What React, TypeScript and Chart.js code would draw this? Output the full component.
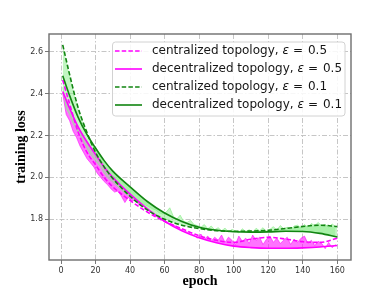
import React, { useEffect, useRef } from 'react';
import { Chart, registerables } from 'chart.js';

Chart.register(...registerables);

// ---- data ----
const smoothEpochs = [1, 5, 10, 15, 20, 25, 30, 40, 50, 60, 70, 80, 90, 100, 110, 120, 130, 140, 150, 160];
const centralized05 = [2.465, 2.35, 2.215, 2.12, 2.06, 2.0, 1.955, 1.89, 1.835, 1.79, 1.755, 1.722, 1.7, 1.69, 1.705, 1.714, 1.706, 1.693, 1.69, 1.71];
const decentralized05 = [2.41, 2.33, 2.24, 2.17, 2.11, 2.05, 2.0, 1.92, 1.85, 1.79, 1.745, 1.712, 1.688, 1.672, 1.665, 1.662, 1.662, 1.664, 1.668, 1.675];
const centralized01 = [2.632, 2.49, 2.33, 2.215, 2.12, 2.05, 1.995, 1.91, 1.845, 1.8, 1.772, 1.756, 1.746, 1.743, 1.744, 1.748, 1.756, 1.766, 1.772, 1.766];
const decentralized01 = [2.485, 2.39, 2.285, 2.205, 2.14, 2.08, 2.03, 1.955, 1.885, 1.83, 1.79, 1.762, 1.748, 1.741, 1.739, 1.74, 1.743, 1.742, 1.733, 1.716];

const rawEpochs = Array.from({ length: 80 }, (_, i) => 1 + 2 * i);
const rawLoss05 = [
  2.4, 2.3, 2.27, 2.22, 2.19, 2.15, 2.12, 2.09, 2.07, 2.05,
  2.02, 2.0, 1.98, 1.965, 1.945, 1.93, 1.935, 1.91, 1.88, 1.905,
  1.885, 1.895, 1.87, 1.865, 1.855, 1.84, 1.835, 1.82, 1.815, 1.8,
  1.79, 1.78, 1.775, 1.765, 1.755, 1.745, 1.74, 1.73, 1.725, 1.71,
  1.73, 1.705, 1.72, 1.695, 1.715, 1.7, 1.725, 1.69, 1.715, 1.7,
  1.68, 1.72, 1.695, 1.71, 1.685, 1.725, 1.7, 1.715, 1.68, 1.705,
  1.72, 1.69, 1.71, 1.685, 1.7, 1.715, 1.68, 1.705, 1.69, 1.71,
  1.72, 1.685, 1.7, 1.675, 1.695, 1.685, 1.66, 1.69, 1.665, 1.68,
];
const rawLoss01 = [
  2.43, 2.33, 2.3, 2.26, 2.23, 2.2, 2.17, 2.14, 2.11, 2.09,
  2.07, 2.05, 2.02, 2.0, 1.985, 1.97, 1.955, 1.94, 1.925, 1.915,
  1.905, 1.895, 1.885, 1.875, 1.868, 1.86, 1.85, 1.845, 1.83, 1.825,
  1.835, 1.855, 1.815, 1.8, 1.82, 1.79, 1.785, 1.795, 1.775, 1.77,
  1.762, 1.775, 1.755, 1.768, 1.75, 1.76, 1.745, 1.758, 1.74, 1.752,
  1.745, 1.735, 1.755, 1.742, 1.75, 1.738, 1.757, 1.745, 1.76, 1.74,
  1.752, 1.765, 1.748, 1.77, 1.755, 1.762, 1.75, 1.768, 1.772, 1.758,
  1.775, 1.762, 1.78, 1.77, 1.785, 1.768, 1.775, 1.762, 1.778, 1.765,
];

const xTicks = [0, 20, 40, 60, 80, 100, 120, 140, 160];
const yTicks = [1.8, 2.0, 2.2, 2.4, 2.6];

const legendNames = ['centralized topology, ', 'decentralized topology, ', 'centralized topology, ', 'decentralized topology, '];
const legendEps = ['0.5', '0.5', '0.1', '0.1'];

const MAGENTA = '#ff00ff';
const GREEN = '#118511';
const legendColors = [MAGENTA, MAGENTA, GREEN, GREEN];
const legendDashed = [true, false, true, false];

const pts = (xs: number[], ys: number[]) => xs.map((x, i) => ({ x, y: ys[i] }));

const framePlugin = {
  id: 'frameLegend',
  afterDraw(chart: any) {
    const { ctx, chartArea: a } = chart;
    ctx.save();
    ctx.strokeStyle = '#6e6e6e';
    ctx.lineWidth = 1.4;
    ctx.setLineDash([]);
    ctx.strokeRect(a.left, a.top, a.right - a.left, a.bottom - a.top);

    // legend box
    const bx = 112.5, by = 42, bw = 232.5, bh = 74, r = 3;
    ctx.beginPath();
    ctx.moveTo(bx + r, by);
    ctx.lineTo(bx + bw - r, by);
    ctx.arcTo(bx + bw, by, bx + bw, by + r, r);
    ctx.lineTo(bx + bw, by + bh - r);
    ctx.arcTo(bx + bw, by + bh, bx + bw - r, by + bh, r);
    ctx.lineTo(bx + r, by + bh);
    ctx.arcTo(bx, by + bh, bx, by + bh - r, r);
    ctx.lineTo(bx, by + r);
    ctx.arcTo(bx, by, bx + r, by, r);
    ctx.closePath();
    ctx.fillStyle = 'rgba(255,255,255,0.85)';
    ctx.fill();
    ctx.strokeStyle = '#d2d2d2';
    ctx.lineWidth = 1;
    ctx.stroke();

    for (let i = 0; i < legendNames.length; i++) {
      const y = 51 + i * 18;
      ctx.beginPath();
      ctx.setLineDash(legendDashed[i] ? [4.5, 2.2] : []);
      ctx.strokeStyle = legendColors[i];
      ctx.lineWidth = 1.6;
      ctx.moveTo(115, y);
      ctx.lineTo(142, y);
      ctx.stroke();
      ctx.setLineDash([]);
      ctx.fillStyle = '#161616';
      ctx.textBaseline = 'middle';
      ctx.textAlign = 'left';
      ctx.font = '12px "DejaVu Sans"';
      let x = 152;
      ctx.fillText(legendNames[i], x, y);
      x += ctx.measureText(legendNames[i]).width;
      ctx.font = 'italic 12px "DejaVu Sans"';
      ctx.fillText('ε', x, y);
      x += ctx.measureText('ε').width + 4;
      ctx.font = '12px "DejaVu Sans"';
      ctx.fillText('=', x, y);
      x += ctx.measureText('=').width + 5;
      ctx.fillText(legendEps[i], x, y);
    }
    ctx.restore();
  },
};

export default function App() {
  const ref = useRef<HTMLCanvasElement | null>(null);

  useEffect(() => {
    document.body.style.margin = '0';
    if (!ref.current) return;
    const line = {
      pointRadius: 0,
      cubicInterpolationMode: 'monotone' as const,
      fill: false,
    };
    const chart = new Chart(ref.current, {
      type: 'line',
      data: {
        datasets: [
          {
            ...line,
            data: pts(rawEpochs, rawLoss05),
            borderColor: 'rgba(255,0,255,0.7)',
            borderWidth: 0.8,
            backgroundColor: 'rgba(255,0,255,0.55)',
            fill: { target: 3 },
            cubicInterpolationMode: 'default',
            tension: 0,
            order: 8,
          },
          {
            ...line,
            data: pts(rawEpochs, rawLoss01),
            borderColor: 'rgba(144,238,144,0.9)',
            borderWidth: 0.8,
            backgroundColor: 'rgba(144,238,144,0.5)',
            fill: { target: 5 },
            cubicInterpolationMode: 'default',
            tension: 0,
            order: 7,
          },
          {
            ...line,
            data: pts(smoothEpochs, centralized01),
            borderWidth: 0,
            borderColor: 'rgba(0,0,0,0)',
            backgroundColor: 'rgba(144,238,144,0.55)',
            fill: { target: 5 },
            order: 6,
          },
          {
            ...line,
            data: pts(smoothEpochs, decentralized05),
            borderColor: MAGENTA,
            borderWidth: 1.6,
            order: 3,
          },
          {
            ...line,
            data: pts(smoothEpochs, centralized05),
            borderColor: MAGENTA,
            borderWidth: 1.6,
            borderDash: [4.5, 2.2],
            order: 2,
          },
          {
            ...line,
            data: pts(smoothEpochs, decentralized01),
            borderColor: GREEN,
            borderWidth: 1.6,
            order: 1,
          },
          {
            ...line,
            data: pts(smoothEpochs, centralized01),
            borderColor: GREEN,
            borderWidth: 1.6,
            borderDash: [4.5, 2.2],
            order: 0,
          },
        ],
      },
      options: {
        animation: false,
        responsive: true,
        maintainAspectRatio: false,
        events: [],
        layout: { padding: { top: 34, right: 39, left: 0, bottom: 0 } },
        plugins: {
          legend: { display: false },
          tooltip: { enabled: false },
        },
        scales: {
          x: {
            type: 'linear',
            min: -6.95,
            max: 167.95,
            afterBuildTicks: (s: any) => {
              s.ticks = xTicks.map((v) => ({ value: v }));
            },
            afterFit: (s: any) => {
              s.height = 33;
            },
            ticks: {
              autoSkip: false,
              maxRotation: 0,
              padding: 2,
              color: '#333',
              font: { family: 'DejaVu Sans', size: 8 },
              callback: (v: any) => String(v),
            },
            grid: {
              color: '#b8b8b8',
              lineWidth: 0.8,
              tickLength: 4,
              tickColor: '#555',
              tickWidth: 0.8,
              tickBorderDash: [],
            },
            border: { display: false, dash: [5, 2, 1.5, 2] },
            title: {
              display: true,
              text: 'epoch',
              color: '#000',
              font: { family: 'Liberation Serif', weight: 'bold', size: 14 },
              padding: { top: 0, bottom: 3.6 },
            },
          },
          y: {
            type: 'linear',
            min: 1.606,
            max: 2.684,
            afterBuildTicks: (s: any) => {
              s.ticks = yTicks.map((v) => ({ value: v }));
            },
            afterFit: (s: any) => {
              s.width = 49;
            },
            ticks: {
              autoSkip: false,
              padding: 2,
              color: '#333',
              font: { family: 'DejaVu Sans', size: 8 },
              callback: (v: any) => Number(v).toFixed(1),
            },
            grid: {
              color: '#b8b8b8',
              lineWidth: 0.8,
              tickLength: 4,
              tickColor: '#555',
              tickWidth: 0.8,
              tickBorderDash: [],
            },
            border: { display: false, dash: [5, 2, 1.5, 2] },
            title: {
              display: true,
              text: 'training loss',
              color: '#000',
              font: { family: 'Liberation Serif', weight: 'bold', size: 14 },
              padding: { top: 12.6, bottom: 0 },
            },
          },
        },
      } as any,
      plugins: [framePlugin],
    });
    return () => chart.destroy();
  }, []);

  return (
    <div style={{ position: 'relative', width: 390, height: 293 }}>
      <canvas ref={ref} />
    </div>
  );
}
